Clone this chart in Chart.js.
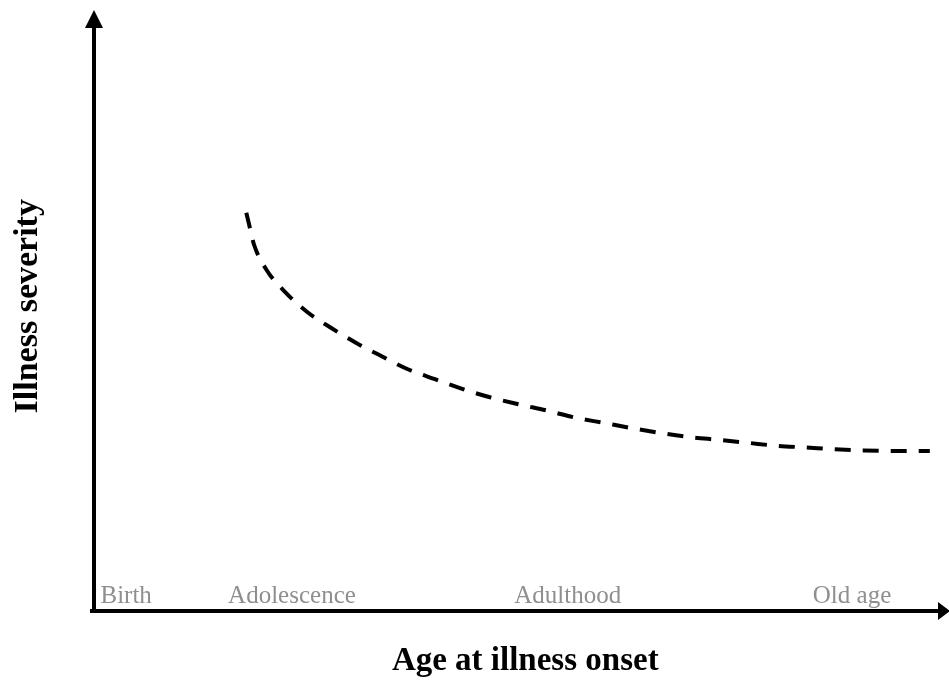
<!DOCTYPE html>
<html>
<head>
<meta charset="utf-8">
<script src="https://cdn.jsdelivr.net/npm/chart.js@4"></script>
<style>
html,body{margin:0;padding:0;background:#fff;}
#wrap{width:949px;height:681px;position:relative;}
</style>
</head>
<body>
<div id="wrap"><canvas id="c" width="949" height="681"></canvas></div>
<script>
// ---- data (arbitrary units: age 0-100, severity 0-100) ----
const ageOnset = [18.0, 18.3, 18.9, 20.4, 22.6, 25.2, 28.0, 31.0, 33.9, 37.1, 40.3, 43.6, 46.8, 50.2, 53.6, 56.9, 60.3, 63.6, 66.9, 70.3, 73.9, 77.3, 80.6, 84.2, 87.6, 91.0, 94.4, 98.8];
const severity = [68.2, 66.4, 62.8, 58.4, 54.6, 51.2, 48.5, 45.9, 43.7, 41.4, 39.7, 38.0, 36.6, 35.4, 34.3, 33.1, 32.2, 31.3, 30.5, 29.8, 29.3, 28.8, 28.3, 28.0, 27.7, 27.5, 27.4, 27.4];
const stageLabels = ["Birth", "Adolescence", "Adulthood", "Old age"];
const stagePositions = [3.8, 23.4, 56.0, 89.6];
const xTitle = "Age at illness onset";
const yTitle = "Illness severity";

const SERIF = '"Liberation Serif", "Times New Roman", "DejaVu Serif", serif';
const NBSP = '\u00a0';

const points = ageOnset.map((x, i) => ({x: x, y: severity[i]}));

const decor = {
  id: 'decor',
  afterDraw(chart) {
    const ctx = chart.ctx;
    const xs = chart.scales.x;
    const ca = chart.chartArea;
    ctx.save();
    // corner fill so axes meet
    ctx.fillStyle = '#000';
    ctx.fillRect(ca.left - 4, ca.bottom - 2, 6, 4);
    // up arrow
    const ax = Math.round(ca.left);
    ctx.beginPath();
    ctx.moveTo(ax, ca.top - 17);
    ctx.lineTo(ax - 9, ca.top + 1);
    ctx.lineTo(ax + 9, ca.top + 1);
    ctx.closePath();
    ctx.fill();
    // right arrow
    const ay = Math.round(ca.bottom);
    ctx.beginPath();
    ctx.moveTo(ca.right + 10, ay);
    ctx.lineTo(ca.right - 2, ay - 9);
    ctx.lineTo(ca.right - 2, ay + 9);
    ctx.closePath();
    ctx.fill();
    // stage labels
    ctx.fillStyle = '#8f8f8f';
    ctx.font = '25px ' + SERIF;
    ctx.textAlign = 'center';
    ctx.textBaseline = 'alphabetic';
    stageLabels.forEach((t, i) => {
      ctx.fillText(t, xs.getPixelForValue(stagePositions[i]), ca.bottom - 8);
    });
    ctx.restore();
  }
};

new Chart(document.getElementById('c'), {
  type: 'line',
  data: {
    datasets: [{
      data: points,
      borderColor: '#000',
      borderWidth: 4,
      borderDash: [16, 12],
      pointRadius: 0,
      fill: false,
      cubicInterpolationMode: 'monotone'
    }]
  },
  options: {
    responsive: false,
    animation: false,
    events: [],
    layout: {padding: {top: 27, right: 9, left: 0, bottom: 0}},
    plugins: {legend: {display: false}, tooltip: {enabled: false}},
    scales: {
      x: {
        type: 'linear', min: 0, max: 100,
        grid: {display: false, drawTicks: false},
        ticks: {display: false},
        border: {display: true, color: '#000', width: 4},
        title: {display: true, text: NBSP + NBSP + xTitle, color: '#000',
                font: {family: SERIF, size: 33, weight: 'bold'},
                padding: {top: 0, bottom: 0}},
        afterFit(s) { s.height = 70; }
      },
      y: {
        type: 'linear', min: 0, max: 100,
        grid: {display: false, drawTicks: false},
        ticks: {display: false},
        border: {display: true, color: '#000', width: 4},
        title: {display: true, text: NBSP + NBSP + NBSP + yTitle, color: '#000',
                font: {family: SERIF, size: 34, weight: 'bold'},
                padding: {top: 8, bottom: 0}},
        afterFit(s) { s.width = 94; }
      }
    }
  },
  plugins: [decor]
});
</script>
</body>
</html>
